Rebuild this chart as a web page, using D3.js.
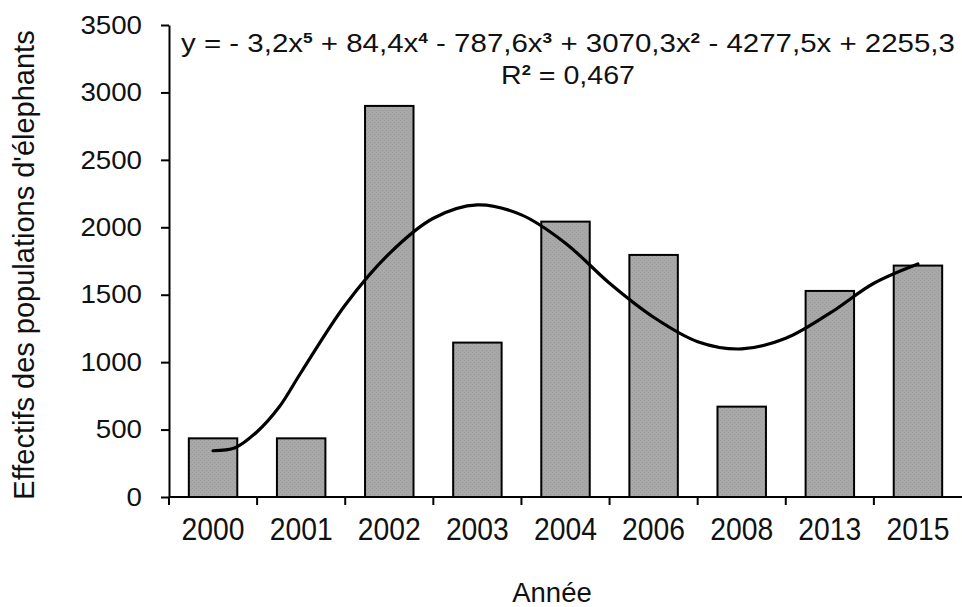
<!DOCTYPE html>
<html>
<head>
<meta charset="utf-8">
<script src="https://cdn.jsdelivr.net/npm/d3@7"></script>
<style>
  html, body { margin: 0; padding: 0; background: #fff; }
  svg text { font-family: "Liberation Sans", Arial, sans-serif; fill: #111; }
</style>
</head>
<body>
<div id="chart"></div>
<script>
// Data
var years = ["2000", "2001", "2002", "2003", "2004", "2006", "2008", "2013", "2015"];
var effectifs = [435, 435, 2900, 1145, 2042, 1795, 670, 1528, 1716];
var yTicks = [0, 500, 1000, 1500, 2000, 2500, 3000, 3500];

// trend line (polynomial, order 5), position in category steps
var trendIndex = [0, 0.25, 0.5, 0.75, 1, 1.5, 2, 2.5, 3, 3.5, 4, 4.5, 5, 5.5, 6, 6.5, 7, 7.5, 8];
var trendValues = [343, 365, 484, 667, 925, 1424, 1805, 2067, 2166, 2092, 1882, 1585, 1333, 1152, 1098, 1177, 1363, 1585, 1728];

var Chart_Width = 962;
var Chart_Height = 607;

var margin = { top: 25, right: 0, bottom: 110, left: 169 };
var width = Chart_Width - margin.left - margin.right;
var height = 497 - margin.top;

var svg = d3.select("#chart")
  .append("svg")
  .attr("width", Chart_Width)
  .attr("height", Chart_Height);

// stippled grey fill of the bars
var defs = svg.append("defs");
var pat = defs.append("pattern")
  .attr("id", "stipple")
  .attr("patternUnits", "userSpaceOnUse")
  .attr("width", 4)
  .attr("height", 4);
pat.append("rect").attr("width", 4).attr("height", 4).attr("fill", "#a8a8a8");
pat.append("rect").attr("x", 1).attr("y", 1).attr("width", 1).attr("height", 1).attr("fill", "#979797");
pat.append("rect").attr("x", 3).attr("y", 3).attr("width", 1).attr("height", 1).attr("fill", "#9c9c9c");

var g = svg.append("g")
  .attr("transform", `translate(${margin.left}, ${margin.top})`);

var x = d3.scaleBand()
  .domain(years)
  .range([0, width])
  .paddingInner(0.45)
  .paddingOuter(0.225);

var y = d3.scaleLinear()
  .domain([0, 3500])
  .range([height, 0]);

// stretch a text horizontally so it covers the width seen in the picture
function fitWidth(sel, target) {
  sel.each(function() {
    var b = this.getBBox();
    var sx = target / b.width;
    var cx = b.x + b.width / 2;
    d3.select(this).attr("transform",
      `translate(${cx},0) scale(${sx},1) translate(${-cx},0)`);
  });
}

// bars
g.append("g").selectAll("rect")
  .data(years)
  .enter()
  .append("rect")
  .attr("x", d => x(d))
  .attr("y", (d, i) => y(effectifs[i]))
  .attr("width", x.bandwidth())
  .attr("height", (d, i) => height - y(effectifs[i]))
  .attr("fill", "url(#stipple)")
  .attr("stroke", "#000")
  .attr("stroke-width", 2);

// y axis
var yAxis = g.append("g")
  .call(d3.axisLeft(y)
    .tickValues(yTicks)
    .tickFormat(d3.format("d"))
    .tickSize(8)
    .tickSizeOuter(0)
    .tickPadding(19));
yAxis.select(".domain").attr("stroke", "#000").attr("stroke-width", 2);
yAxis.selectAll(".tick line").attr("stroke", "#000").attr("stroke-width", 2);
yAxis.selectAll("text")
  .attr("font-size", "25.5px")
  .attr("fill", "#111")
  .attr("font-family", "Liberation Sans, Arial, sans-serif")
  .attr("textLength", d => String(d).length * 15.4)
  .attr("lengthAdjust", "spacingAndGlyphs");

// x axis: line, ticks between categories, labels centred under bars
g.append("line")
  .attr("x1", 0).attr("x2", width)
  .attr("y1", height).attr("y2", height)
  .attr("stroke", "#000").attr("stroke-width", 2);

g.append("g").selectAll("line")
  .data(years)
  .enter()
  .append("line")
  .attr("x1", d => x(d) - x.step() * x.paddingInner() / 2)
  .attr("x2", d => x(d) - x.step() * x.paddingInner() / 2)
  .attr("y1", height)
  .attr("y2", height + 8)
  .attr("stroke", "#000").attr("stroke-width", 2);

g.append("g").selectAll("text")
  .data(years)
  .enter()
  .append("text")
  .attr("x", d => x(d) + x.bandwidth() / 2)
  .attr("y", height + 43)
  .attr("text-anchor", "middle")
  .attr("font-size", "31px")
  .attr("textLength", 63)
  .attr("lengthAdjust", "spacingAndGlyphs")
  .text(d => d);

// trend line
var xi = d3.scaleLinear()
  .domain([0, years.length - 1])
  .range([x(years[0]) + x.bandwidth() / 2, x(years[years.length - 1]) + x.bandwidth() / 2]);

var trendLine = d3.line()
  .x((d, i) => xi(trendIndex[i]))
  .y(d => y(d))
  .curve(d3.curveCatmullRom.alpha(0.5));

g.append("path")
  .datum(trendValues)
  .attr("d", trendLine)
  .attr("fill", "none")
  .attr("stroke", "#000")
  .attr("stroke-width", 3.2)
  .attr("stroke-linecap", "round");

// equation of the trend line
var eqParts = [
  ["y = - 3,2x", "5"], [" + 84,4x", "4"], [" - 787,6x", "3"],
  [" + 3070,3x", "2"], [" - 4277,5x + 2255,3", null]
];
var eq = svg.append("text")
  .attr("x", 568)
  .attr("y", 52)
  .attr("text-anchor", "middle")
  .attr("font-size", "25.5px");
var lift = 0;
eqParts.forEach(function(p) {
  eq.append("tspan").attr("dy", lift).text(p[0]);
  lift = 0;
  if (p[1]) {
    eq.append("tspan").attr("font-size", "15px").attr("font-weight", "bold").attr("dy", -9).text(p[1]);
    lift = 9;
  }
});
fitWidth(eq, 774);

var r2 = svg.append("text")
  .attr("x", 568)
  .attr("y", 84)
  .attr("text-anchor", "middle")
  .attr("font-size", "26px");
r2.append("tspan").text("R");
r2.append("tspan").attr("font-size", "15px").attr("font-weight", "bold").attr("dy", -9).text("2");
r2.append("tspan").attr("dy", 9).text(" = 0,467");
fitWidth(r2, 134);

// axis titles
svg.append("text")
  .attr("transform", "translate(34, 265) rotate(-90)")
  .attr("text-anchor", "middle")
  .attr("font-size", "29px")
  .text("Effectifs des populations d'élephants");

svg.append("text")
  .attr("x", 552)
  .attr("y", 602)
  .attr("text-anchor", "middle")
  .attr("font-size", "27.5px")
  .text("Année");
</script>
</body>
</html>
